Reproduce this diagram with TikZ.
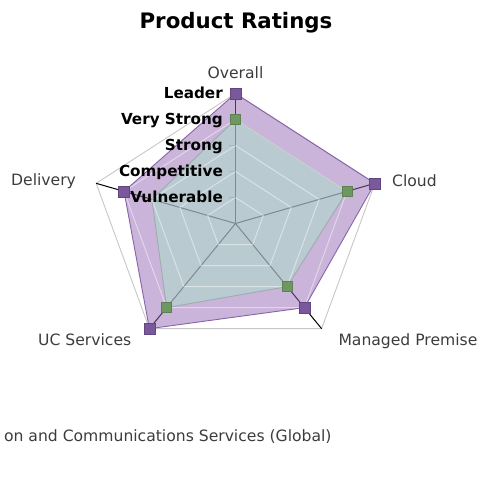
\documentclass[tikz,border=0pt]{standalone}
\usepackage{fontspec}
\setmainfont{DejaVu Sans}
\definecolor{pfill}{RGB}{150,105,182}
\definecolor{pline}{RGB}{135,100,170}
\definecolor{pmark}{RGB}{122,88,156}
\definecolor{gfill}{RGB}{172,225,200}
\definecolor{gline}{RGB}{140,165,155}
\definecolor{gmark}{RGB}{110,152,96}
\definecolor{labgray}{RGB}{60,60,60}
\tikzset{
  outerring/.style={draw=black!22, line width=0.9pt},
  innerring/.style={draw=white, opacity=0.45, line width=1pt},
  axisline/.style={draw=black, line width=1pt},
  pseries/.style={fill=pfill, fill opacity=0.5, draw=pline, line width=0.9pt},
  gseries/.style={fill=gfill, fill opacity=0.5, draw=gline, draw opacity=0.7, line width=0.9pt},
  pmk/.style={fill=pmark, draw=pmark!80!black, line width=0.4pt, minimum size=11pt, inner sep=0pt, outer sep=0pt},
  gmk/.style={fill=gmark, draw=gmark!85!black, line width=0.4pt, minimum size=10pt, inner sep=0pt, outer sep=0pt},
  catlab/.style={font=\fontsize{15.6}{18}\selectfont, text=labgray, inner sep=0pt},
  ticklab/.style={font=\bfseries\fontsize{15.2}{18}\selectfont, text=black, inner sep=0pt, anchor=base east},
  titlelab/.style={font=\bfseries\fontsize{21.3}{25}\selectfont, text=black, inner sep=0pt},
  tickmark/.style={draw=black!30, line width=0.8pt}
}
\begin{document}
\begin{tikzpicture}[x=1pt,y=-1pt]
\useasboundingbox (0,0) rectangle (478,479);
\def\cx{235.5}\def\cy{223.5}\def\rx{146.5}\def\ry{130}
\coordinate (c) at (\cx,\cy);
\foreach \n/\a/\pv/\gv in {1/90/1/0.8, 2/18/1/0.8, 3/-54/0.8/0.6, 4/-126/1/0.8, 5/162/0.8/0.6} {
  \coordinate (o\n) at ({\cx+\rx*cos(\a)},{\cy-\ry*sin(\a)});
  \coordinate (p\n) at ({\cx+\rx*\pv*cos(\a)},{\cy-\ry*\pv*sin(\a)});
  \coordinate (g\n) at ({\cx+\rx*\gv*cos(\a)},{\cy-\ry*\gv*sin(\a)});
  \foreach \k in {1,2,3,4} {
    \coordinate (r\k-\n) at ({\cx+\rx*\k/5*cos(\a)},{\cy-\ry*\k/5*sin(\a)});
  }
}
% outer ring
\draw[outerring] (o1) -- (o2) -- (o3) -- (o4) -- (o5) -- cycle;
% axes
\foreach \n in {1,...,5} { \draw[axisline] (c) -- (o\n); }
% series
\draw[pseries] (p1) -- (p2) -- (p3) -- (p4) -- (p5) -- cycle;
\draw[gseries] (g1) -- (g2) -- (g3) -- (g4) -- (g5) -- cycle;
% inner rings
\foreach \k in {1,2,3,4} {
  \draw[innerring] (r\k-1) -- (r\k-2) -- (r\k-3) -- (r\k-4) -- (r\k-5) -- cycle;
}
% tick marks
\foreach \k in {1,...,4} { \draw[tickmark] ([xshift=-7pt]r\k-1) -- (r\k-1); }
% markers
\foreach \n in {1,2,3,4} { \node[gmk] (gm\n) at (g\n) {}; }
\foreach \n in {1,...,5} { \node[pmk] (pm\n) at (p\n) {}; }
% tick labels
\node[ticklab] (t5) at (223,98.3) {Leader};
\node[ticklab] (t4) at (223,124.4) {Very Strong};
\node[ticklab] (t3) at (223,150.4) {Strong};
\node[ticklab] (t2) at (223,176.5) {Competitive};
\node[ticklab] (t1) at (223,202.5) {Vulnerable};
% category labels
\node[catlab, anchor=base] (lo) at (235.5,78.5) {Overall};
\node[catlab, anchor=base west] (lc) at (392,186) {Cloud};
\node[catlab, anchor=base west] (lm) at (338.3,345.5) {Managed Premise};
\node[catlab, anchor=base west] (lu) at (38,345.5) {UC Services};
\node[catlab, anchor=base west] (ld) at (11,185.7) {Delivery};
% title and bottom text
\node[titlelab, anchor=base] (title) at (236,28.3) {Product Ratings};
\node[catlab, anchor=base east] (bottom) at (331.7,441) {on and Communications Services (Global)};
\end{tikzpicture}
\end{document}
